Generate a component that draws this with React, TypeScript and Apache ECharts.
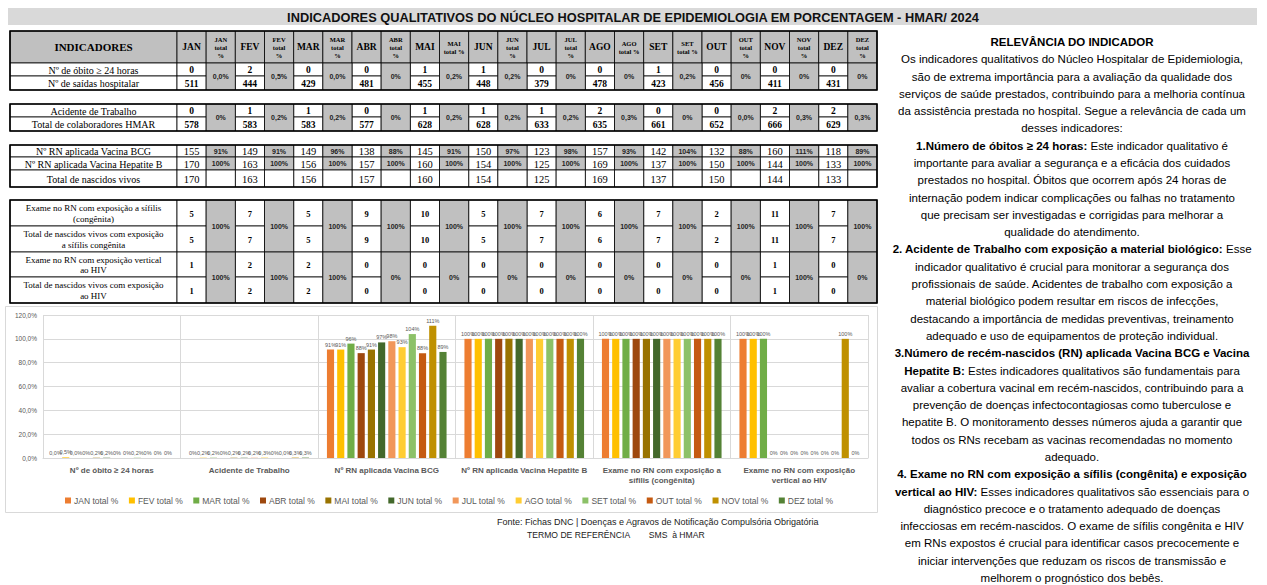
import React, { useEffect, useRef } from "react";
import * as echarts from "echarts";

// ---------- DATA ----------
const months = ["JAN", "FEV", "MAR", "ABR", "MAI", "JUN", "JUL", "AGO", "SET", "OUT", "NOV", "DEZ"];
const totalHeaders = [
  "JAN\ntotal\n%", "FEV\ntotal\n%", "MAR\ntotal\n%", "ABR\ntotal\n%", "MAI\ntotal %", "JUN\ntotal\n%",
  "JUL\ntotal\n%", "AGO\ntotal %", "SET\ntotal %", "OUT\ntotal\n%", "NOV\ntotal\n%", "DEZ\ntotal\n%",
];
const obitos = [0, 2, 0, 0, 1, 1, 0, 0, 1, 0, 0, 0];
const saidas = [511, 444, 429, 481, 455, 448, 379, 478, 423, 456, 411, 431];
const obitoPct = ["0,0%", "0,5%", "0,0%", "0%", "0,2%", "0,2%", "0%", "0%", "0,2%", "0%", "0%", "0%"];
const acidentes = [0, 1, 1, 0, 1, 1, 1, 2, 0, 0, 2, 2];
const colaboradores = [578, 583, 583, 577, 628, 628, 633, 635, 661, 652, 666, 629];
const acidentePct = ["0%", "0,2%", "0,2%", "0%", "0,2%", "0,2%", "0,2%", "0,3%", "0%", "0,0%", "0,3%", "0,3%"];
const bcg = [155, 149, 149, 138, 145, 150, 123, 157, 142, 132, 160, 118];
const bcgPct = ["91%", "91%", "96%", "88%", "91%", "97%", "98%", "93%", "104%", "88%", "111%", "89%"];
const hepB = [170, 163, 156, 157, 160, 154, 125, 169, 137, 150, 144, 133];
const hepBPct = ["100%", "100%", "100%", "100%", "100%", "100%", "100%", "100%", "100%", "100%", "100%", "100%"];
const nascidos = [170, 163, 156, 157, 160, 154, 125, 169, 137, 150, 144, 133];
const sifilisExame = [5, 7, 5, 9, 10, 5, 7, 6, 7, 2, 11, 7];
const sifilisTotal = [5, 7, 5, 9, 10, 5, 7, 6, 7, 2, 11, 7];
const sifilisPct = ["100%", "100%", "100%", "100%", "100%", "100%", "100%", "100%", "100%", "100%", "100%", "100%"];
const hivExame = [1, 2, 2, 0, 0, 0, 0, 0, 0, 0, 1, 0];
const hivTotal = [1, 2, 2, 0, 0, 0, 0, 0, 0, 0, 1, 0];
const hivPct = ["100%", "100%", "100%", "0%", "0%", "0%", "0%", "0%", "0%", "0%", "100%", "0%"];

const chartCategories = [
  "Nº de óbito ≥ 24 horas",
  "Acidente de Trabalho",
  "Nº RN aplicada Vacina BCG",
  "Nº RN aplicada Vacina Hepatite B",
  "Exame no RN com exposição a\nsífilis (congênita)",
  "Exame no RN com exposição\nvertical ao HIV",
];
const pctTable = [obitoPct, acidentePct, bcgPct, hepBPct, sifilisPct, hivPct];
const seriesColors = [
  "#ED7D31", "#FFC000", "#70AD47", "#9E480E", "#997300", "#43682B",
  "#F1975A", "#FFCD33", "#8CC168", "#C55A11", "#BF9000", "#548235",
];

const titleText = "INDICADORES QUALITATIVOS DO NÚCLEO HOSPITALAR DE EPIDEMIOLOGIA EM PORCENTAGEM - HMAR/ 2024";
const panelLines = [
  "{b|RELEVÂNCIA DO INDICADOR}",
  "Os indicadores qualitativos do Núcleo Hospitalar de Epidemiologia,",
  "são de extrema importância para a avaliação da qualidade dos",
  "serviços de saúde prestados, contribuindo para a melhoria contínua",
  "da assistência prestada no hospital. Segue a relevância de cada um",
  "desses indicadores:",
  "{b|1.Número de óbitos ≥ 24 horas:} Este indicador qualitativo é",
  "importante para avaliar a segurança e a eficácia dos cuidados",
  "prestados no hospital. Óbitos que ocorrem após 24 horas de",
  "internação podem indicar complicações ou falhas no tratamento",
  "que precisam ser investigadas e corrigidas para melhorar a",
  "qualidade do atendimento.",
  "{b|2. Acidente de Trabalho com exposição a material biológico:} Esse",
  "indicador qualitativo é crucial para monitorar a segurança dos",
  "profissionais de saúde. Acidentes de trabalho com exposição a",
  "material biológico podem resultar em riscos de infecções,",
  "destacando a importância de medidas preventivas, treinamento",
  "adequado e uso de equipamentos de proteção individual.",
  "{b|3.Número de recém-nascidos (RN) aplicada Vacina BCG e Vacina}",
  "{b|Hepatite B:} Estes indicadores qualitativos são fundamentais para",
  "avaliar a cobertura vacinal em recém-nascidos, contribuindo para a",
  "prevenção de doenças infectocontagiosas como tuberculose e",
  "hepatite B. O monitoramento desses números ajuda a garantir que",
  "todos os RNs recebam as vacinas recomendadas no momento",
  "adequado.",
  "{b|4. Exame no RN com exposição a sífilis (congênita) e exposição}",
  "{b|vertical ao HIV:} Esses indicadores qualitativos são essenciais para o",
  "diagnóstico precoce e o tratamento adequado de doenças",
  "infecciosas em recém-nascidos. O exame de sífilis congênita e HIV",
  "em RNs expostos é crucial para identificar casos precocemente e",
  "iniciar intervenções que reduzam os riscos de transmissão e",
  "melhorem o prognóstico dos bebês.",
];
const footer1 = "Fonte: Fichas DNC | Doenças e Agravos de Notificação Compulsória Obrigatória";
const footer2 = "TERMO DE REFERÊNCIA        SMS  à HMAR";

// ---------- HELPERS ----------
const W = 1267;
const H = 585;
const SERIF = "'Liberation Serif', 'Times New Roman', serif";
const SANS = "'Liberation Sans', Arial, sans-serif";
const GRAY = "#c0c0c0";
const X0 = 10;
const C0W = 167;
const CW = 700 / 24;
const colX = (c: number) => 177 + c * CW;
const toNum = (s: string) => parseFloat(s.replace("%", "").replace(",", "."));

const box = (x: number, y: number, w: number, h: number, fill: string, lw = 0.8) => ({
  type: "rect",
  silent: true,
  shape: { x, y, width: w, height: h },
  style: { fill, stroke: "#000", lineWidth: lw },
});
const txt = (x: number, y: number, text: string, st: any) => ({
  type: "text",
  x,
  y,
  silent: true,
  style: { text, align: "center", verticalAlign: "middle", fill: "#000", ...st },
});

function buildTable(): any[] {
  const els: any[] = [];
  const outlines: any[] = [];
  const labelFont = { fontFamily: SERIF, fontSize: 10 };
  const pctFont = { fontFamily: SANS, fontSize: 7, fontWeight: "bold", fill: "#222" };

  // header
  const hy = 31, hh = 32;
  els.push(box(X0, hy, C0W, hh, GRAY));
  els.push(txt(X0 + C0W / 2, hy + hh / 2, "INDICADORES", { fontFamily: SERIF, fontSize: 11, fontWeight: "bold" }));
  months.forEach((m, k) => {
    els.push(box(colX(2 * k), hy, CW, hh, GRAY));
    els.push(txt(colX(2 * k) + CW / 2, hy + hh / 2, m, { fontFamily: SERIF, fontSize: 9.5, fontWeight: "bold" }));
    els.push(box(colX(2 * k + 1), hy, CW, hh, GRAY));
    els.push(txt(colX(2 * k + 1) + CW / 2, hy + hh / 2, totalHeaders[k], { fontFamily: SERIF, fontSize: 6.5, fontWeight: "bold", lineHeight: 8 }));
  });

  const numRow = (y: number, h: number, label: string, vals: number[], lf: any, nf: any) => {
    els.push(box(X0, y, C0W, h, "#fff"));
    els.push(txt(X0 + C0W / 2, y + h / 2 + 0.5, label, lf));
    vals.forEach((v, k) => {
      els.push(box(colX(2 * k), y, CW, h, "#fff"));
      els.push(txt(colX(2 * k) + CW / 2, y + h / 2 + 0.5, String(v), nf));
    });
  };
  const pctCol = (y: number, h: number, pcts: string[] | null, fill: string) => {
    months.forEach((_, k) => {
      els.push(box(colX(2 * k + 1), y, CW, h, fill));
      if (pcts) els.push(txt(colX(2 * k + 1) + CW / 2, y + h / 2, pcts[k], pctFont));
    });
  };
  const outline = (y: number, h: number) => {
    outlines.push({ type: "rect", silent: true, shape: { x: X0, y, width: 867, height: h }, style: { fill: "none", stroke: "#000", lineWidth: 1.6 } });
  };

  const nfBold = { fontFamily: SERIF, fontSize: 9.5, fontWeight: "bold" };
  const nfReg = { fontFamily: SERIF, fontSize: 10.5 };

  // block 1
  numRow(63, 13, "Nº de óbito ≥ 24 horas", obitos, labelFont, nfBold);
  numRow(76, 14, "Nº de saídas hospitalar", saidas, labelFont, nfBold);
  pctCol(63, 27, obitoPct, GRAY);
  outline(31, 59);

  // block 2
  numRow(104, 13, "Acidente de Trabalho", acidentes, labelFont, nfBold);
  numRow(117, 14, "Total de colaboradores HMAR", colaboradores, labelFont, nfBold);
  pctCol(104, 27, acidentePct, GRAY);
  outline(104, 27);

  // block 3
  numRow(145, 12, "Nº RN aplicada Vacina BCG", bcg, labelFont, nfReg);
  pctCol(145, 12, bcgPct, GRAY);
  numRow(157, 13, "Nº RN aplicada Vacina Hepatite B", hepB, labelFont, nfReg);
  pctCol(157, 13, hepBPct, GRAY);
  numRow(170, 17, "Total de nascidos vivos", nascidos, labelFont, nfReg);
  pctCol(170, 17, null, "#fff");
  outline(145, 42);

  // block 4
  const lf4 = { fontFamily: SERIF, fontSize: 9, lineHeight: 10.5 };
  const nf4 = { fontFamily: SERIF, fontSize: 8.5, fontWeight: "bold" };
  numRow(200, 26, "Exame no RN com exposição a sífilis\n(congênita)", sifilisExame, lf4, nf4);
  numRow(226, 26, "Total de nascidos vivos com exposição\na sífilis congênita", sifilisTotal, lf4, nf4);
  pctCol(200, 52, sifilisPct, GRAY);
  numRow(252, 25, "Exame no RN com exposição vertical\nao HIV", hivExame, lf4, nf4);
  numRow(277, 26, "Total de nascidos vivos com exposição\nao HIV", hivTotal, lf4, nf4);
  pctCol(252, 51, hivPct, GRAY);
  outline(200, 103);

  return els.concat(outlines);
}

function buildGraphics(): any[] {
  const els: any[] = [];
  // title bar
  els.push({ type: "rect", silent: true, shape: { x: 8, y: 8, width: 1249, height: 17 }, style: { fill: "#d9d9d9" } });
  els.push(txt(633, 17, titleText, { fontFamily: SANS, fontSize: 12.8, fontWeight: "bold", fill: "#111" }));
  // chart frame
  els.push({ type: "rect", silent: true, shape: { x: 5.5, y: 306.5, width: 872, height: 206 }, style: { fill: "none", stroke: "#d9d9d9", lineWidth: 1 } });
  els.push(...buildTable());
  // right panel
  panelLines.forEach((line, i) => {
    els.push({
      type: "text",
      x: 1072,
      y: 42 + i * 17.29,
      silent: true,
      style: {
        text: line,
        align: "center",
        verticalAlign: "middle",
        fill: "#000",
        fontFamily: SANS,
        fontSize: 11.5,
        rich: { b: { fontFamily: SANS, fontSize: 11.5, fontWeight: "bold", fill: "#000" } },
      },
    });
  });
  // footer
  els.push({ type: "text", x: 497, y: 522, silent: true, style: { text: footer1, align: "left", verticalAlign: "middle", fill: "#222", fontFamily: SANS, fontSize: 9 } });
  els.push({ type: "text", x: 527, y: 535, silent: true, style: { text: footer2, align: "left", verticalAlign: "middle", fill: "#222", fontFamily: SANS, fontSize: 8.6 } });
  return els;
}

export default function App() {
  const ref = useRef<HTMLDivElement>(null);
  useEffect(() => {
    if (!ref.current) return;
    const chart = echarts.init(ref.current, undefined, { renderer: "svg" });
    const option: any = {
      animation: false,
      backgroundColor: "#fff",
      textStyle: { fontFamily: SANS },
      grid: { left: 43, right: W - 868, top: 315, bottom: H - 458, containLabel: false },
      legend: {
        left: 60,
        top: 491,
        icon: "rect",
        itemWidth: 6,
        itemHeight: 6,
        itemGap: 10.5,
        textStyle: { fontSize: 8.5, color: "#595959", padding: [0, 0, 0, -2] },
        data: months.map((m) => `${m} total %`),
      },
      xAxis: {
        type: "category",
        data: chartCategories,
        axisLine: { lineStyle: { color: "#d9d9d9" } },
        axisTick: { show: false },
        splitLine: { show: true, lineStyle: { color: "#d9d9d9" } },
        axisLabel: { interval: 0, fontSize: 8, fontWeight: "bold", color: "#595959", margin: 7, lineHeight: 10 },
      },
      yAxis: {
        type: "value",
        min: 0,
        max: 120,
        interval: 20,
        axisLine: { show: false },
        axisTick: { show: false },
        splitLine: { lineStyle: { color: "#d9d9d9" } },
        axisLabel: {
          fontSize: 6.5,
          color: "#595959",
          margin: 6,
          formatter: (v: number) => v.toFixed(1).replace(".", ",") + "%",
        },
      },
      series: months.map((m, i) => ({
        type: "bar",
        name: `${m} total %`,
        data: pctTable.map((row) => toNum(row[i])),
        itemStyle: { color: seriesColors[i] },
        barGap: "43%",
        barCategoryGap: "13%",
        label: {
          show: true,
          position: "top",
          distance: 2,
          fontSize: 5.5,
          color: "#595959",
          formatter: (p: any) => pctTable[p.dataIndex][p.seriesIndex],
        },
      })),
      graphic: buildGraphics(),
    };
    chart.setOption(option);
    return () => chart.dispose();
  }, []);
  return <div ref={ref} style={{ position: "absolute", left: 0, top: 0, width: W, height: H }} />;
}
